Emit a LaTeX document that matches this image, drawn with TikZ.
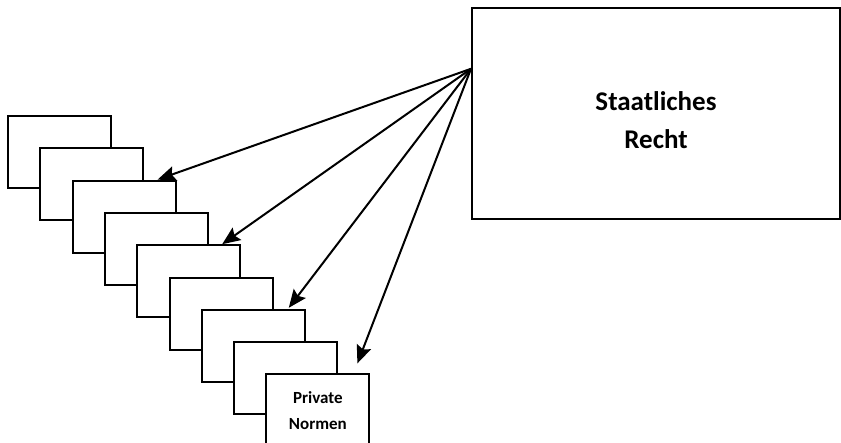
\documentclass[tikz,border=0pt]{standalone}
\usepackage{fontspec}
\setmainfont{Carlito}
\usetikzlibrary{calc, arrows.meta}

\begin{document}
\begin{tikzpicture}[x = 1pt, y = -1pt, line width = 2pt,
		sheet/.style = {draw, fill = white, minimum width = 103pt, minimum height = 72pt,
			inner sep = 0pt, anchor = north west, align = center, font = \bfseries\fontsize{17}{26}\selectfont},
		pfeil/.style = {-{Stealth[length = 18pt, width = 15pt, inset = 3pt]}}]
					\def\xSTEP{32.3};
					\def\ySTEP{32.3};

					\useasboundingbox (0,0) rectangle (841,442);

					\begin{scope}
						\node [draw, minimum width = 368pt, minimum height = 211pt, inner sep = 0pt, anchor = north west] (staat) at (471,7) {};
						\node [align = center, font = \bfseries\fontsize{27}{38}\selectfont] (titel) at ($(staat.center) + (0,7)$) {Staatliches\\Recht};
					\end{scope}

					\begin{scope}
						\foreach \i in {0,...,7}
							\node [sheet] (p\i) at ({7 + \i*\xSTEP}, {115 + \i*\ySTEP}) {};
						\node [sheet] (p8) at ({7 + 8*\xSTEP}, {115 + 8*\ySTEP}) {Private\\Normen};
					\end{scope}

					\coordinate (src) at ($(staat.north west)!0.29!(staat.south west)$);
					\coordinate (z2) at ($(p2.north east) + (-19,0)$);
					\coordinate (z4) at ($(p4.north east) + (-19,0)$);
					\coordinate (z6) at ($(p6.north east) + (-17,-1)$);
					\coordinate (z8) at ($(p8.north east) + (-13,-10)$);

					\begin{scope}[pfeil]
						\draw (src) -- (z2);
						\draw (src) -- (z4);
						\draw (src) -- (z6);
						\draw (src) -- (z8);
					\end{scope}
				\end{tikzpicture}
\end{document}
